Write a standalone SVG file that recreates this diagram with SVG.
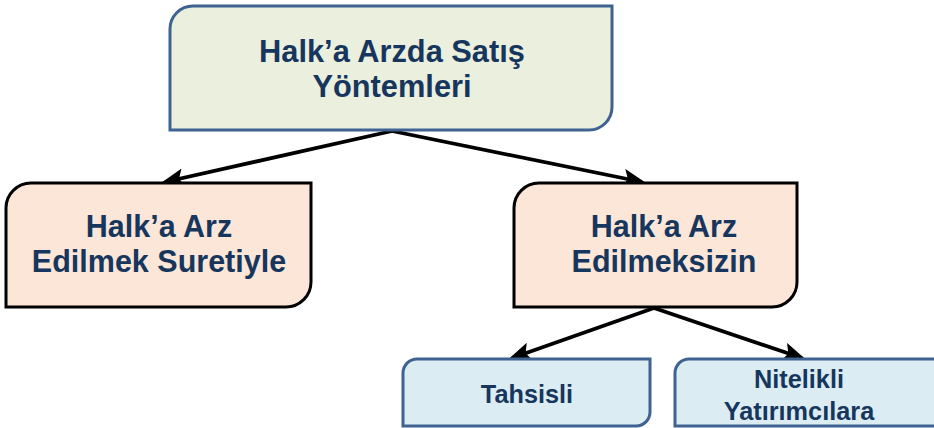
<svg xmlns="http://www.w3.org/2000/svg" width="934" height="428" viewBox="0 0 934 428">
<style>
.t{font-family:"Liberation Sans",Arial,sans-serif;font-weight:bold;fill:#17365d;text-anchor:middle}
.green{fill:#ebefde;stroke:#3f6390;stroke-width:3}
.peach{fill:#fce6d8;stroke:#000;stroke-width:3}
.blue{fill:#dbedf3;stroke:#3f6390;stroke-width:3}
.c{stroke:#000;stroke-width:3.8;fill:none;marker-end:url(#ah)}
</style>
<defs>
<marker id="ah" markerWidth="6" markerHeight="5" refX="5" refY="2.5" orient="auto" markerUnits="strokeWidth">
<path d="M0,0 L6,2.5 L0,5 L1.2,2.5 Z" fill="#000"/>
</marker>
</defs>
<rect width="934" height="428" fill="#fff"/>
<g id="connectors">
<path class="c" d="M392,131 L165,182"/>
<path class="c" d="M392,131 L642,182"/>
<path class="c" d="M654,308 L512,358"/>
<path class="c" d="M654,308 L802,358"/>
</g>
<g id="root">
<path class="green" d="M193,6 H612 V107 A23,23 0 0 1 589,130 H170 V29 A23,23 0 0 1 193,6 Z"/>
<text class="t" x="392" y="62" font-size="30.8">Halk’a Arzda Satış</text>
<text class="t" x="392" y="97" font-size="30.8">Yöntemleri</text>
</g>
<g id="left">
<path class="peach" d="M31,183 H311 V282 A25,25 0 0 1 286,307 H6 V208 A25,25 0 0 1 31,183 Z"/>
<text class="t" x="159" y="237" font-size="30.5">Halk’a Arz</text>
<text class="t" x="159" y="272" font-size="30.5">Edilmek Suretiyle</text>
</g>
<g id="right">
<path class="peach" d="M539,183 H797 V282 A25,25 0 0 1 772,307 H514 V208 A25,25 0 0 1 539,183 Z"/>
<text class="t" x="664" y="237" font-size="30.5">Halk’a Arz</text>
<text class="t" x="664" y="272" font-size="30.5">Edilmeksizin</text>
</g>
<g id="tahsisli">
<path class="blue" d="M417,359 H650 V412 A14,14 0 0 1 636,426 H403 V373 A14,14 0 0 1 417,359 Z"/>
<text class="t" x="527" y="403" font-size="25.3">Tahsisli</text>
</g>
<g id="nitelikli">
<path class="blue" d="M689,359 H940 V426 H675 V373 A14,14 0 0 1 689,359 Z"/>
<text class="t" x="799" y="388" font-size="25.3">Nitelikli</text>
<text class="t" x="799" y="420" font-size="25.3">Yatırımcılara</text>
</g>
</svg>
